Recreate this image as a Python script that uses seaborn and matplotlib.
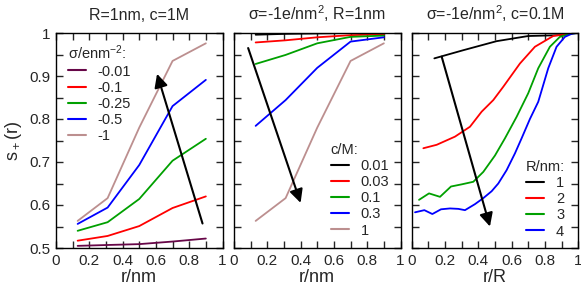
import numpy as np
import pandas as pd
import matplotlib
matplotlib.use("Agg")
import matplotlib.pyplot as plt
from matplotlib.ticker import MultipleLocator
import seaborn as sns

# ========== data ==========
# panel 1: R=1nm, c=1M, different surface charge densities
r_p1 = [0.13, 0.31, 0.5, 0.7, 0.9]
sigma_labels = ["-0.01", "-0.1", "-0.25", "-0.5", "-1"]
s_sig_001 = [0.505, 0.507, 0.509, 0.515, 0.522]
s_sig_01 = [0.517, 0.528, 0.551, 0.593, 0.620]
s_sig_025 = [0.540, 0.560, 0.614, 0.703, 0.754]
s_sig_05 = [0.556, 0.594, 0.693, 0.830, 0.891]
s_sig_1 = [0.563, 0.616, 0.780, 0.935, 0.976]

# panel 2: sigma=-1e/nm^2, R=1nm, different concentrations
r_p2 = [0.13, 0.31, 0.5, 0.7, 0.9]
conc_labels = ["0.01", "0.03", "0.1", "0.3", "1"]
s_c001 = [0.996, 0.998, 0.999, 1.000, 1.000]
s_c003 = [0.978, 0.983, 0.990, 0.995, 0.997]
s_c01 = [0.928, 0.949, 0.976, 0.991, 0.994]
s_c03 = [0.784, 0.844, 0.919, 0.980, 0.990]
s_c1 = [0.563, 0.616, 0.780, 0.935, 0.976]

# panel 3: sigma=-1e/nm^2, c=0.1M, different radii (x = r/R)
radius_labels = ["1", "2", "3", "4"]
r_R1 = [0.136, 0.31, 0.51, 0.70, 0.90, 0.96]
s_R1 = [0.941, 0.960, 0.981, 0.993, 0.995, 0.998]
r_R2 = [0.07, 0.15, 0.26, 0.35, 0.42, 0.49, 0.55, 0.65, 0.74, 0.85, 0.93, 0.98]
s_R2 = [0.732, 0.740, 0.759, 0.782, 0.817, 0.844, 0.875, 0.929, 0.968, 0.993, 0.998, 1.000]
r_R3 = [0.044, 0.104, 0.17, 0.236, 0.30, 0.37, 0.43, 0.50, 0.56, 0.63, 0.70, 0.76, 0.83, 0.89, 0.95, 0.99]
s_R3 = [0.612, 0.627, 0.619, 0.643, 0.648, 0.654, 0.677, 0.715, 0.755, 0.805, 0.860, 0.918, 0.968, 0.991, 0.998, 1.000]
r_R4 = [0.02, 0.076, 0.124, 0.176, 0.23, 0.28, 0.32, 0.38, 0.43, 0.48, 0.52, 0.57, 0.62, 0.66, 0.71, 0.76, 0.82, 0.87, 0.92, 0.96, 0.99]
s_R4 = [0.583, 0.588, 0.579, 0.590, 0.592, 0.591, 0.588, 0.602, 0.616, 0.632, 0.650, 0.681, 0.720, 0.755, 0.800, 0.840, 0.918, 0.968, 0.991, 0.998, 1.000]

# trend arrows (tail, tip) in data units
arrow_p1 = [(0.88, 0.557), (0.607, 0.905)]
arrow_p2 = [(0.085, 0.965), (0.40, 0.605)]
arrow_p3 = [(0.18, 0.945), (0.47, 0.55)]

titles = ["R=1nm, c=1M", "σ=-1e/nm$^2$, R=1nm", "σ=-1e/nm$^2$, c=0.1M"]
xlabels = ["r/nm", "r/nm", "r/R"]

colors5 = ["#670748", "#ff0000", "#00a000", "#0000ff", "#bc8f8f"]
colors4 = ["#000000", "#ff0000", "#00a000", "#0000ff"]
colors5b = ["#000000", "#ff0000", "#00a000", "#0000ff", "#bc8f8f"]

# ========== long tables ==========
df1 = pd.DataFrame({
    "r": r_p1 * 5,
    "s": s_sig_001 + s_sig_01 + s_sig_025 + s_sig_05 + s_sig_1,
    "grp": [l for l in sigma_labels for _ in r_p1],
})
df2 = pd.DataFrame({
    "r": r_p2 * 5,
    "s": s_c001 + s_c003 + s_c01 + s_c03 + s_c1,
    "grp": [l for l in conc_labels for _ in r_p2],
})
df3 = pd.DataFrame({
    "r": r_R1 + r_R2 + r_R3 + r_R4,
    "s": s_R1 + s_R2 + s_R3 + s_R4,
    "grp": (["1"] * len(r_R1) + ["2"] * len(r_R2)
            + ["3"] * len(r_R3) + ["4"] * len(r_R4)),
})

# ========== style ==========
sns.set_style("ticks")
plt.rcParams["font.family"] = ["Liberation Sans", "DejaVu Sans"]
plt.rcParams["mathtext.fontset"] = "custom"
plt.rcParams["mathtext.rm"] = "Liberation Sans"
plt.rcParams["mathtext.it"] = "Liberation Sans"

W, H = 581, 287
fig = plt.figure(figsize=(W / 100, H / 100), dpi=100)
lefts = [56, 234, 411.7]
aw = 166.5
top, bot = 33, 248
axes = [fig.add_axes([l / W, 1 - bot / H, aw / W, (bot - top) / H]) for l in lefts]

tables = [df1, df2, df3]
orders = [sigma_labels, conc_labels, radius_labels]
pals = [colors5, colors5b, colors4]
arrows = [arrow_p1, arrow_p2, arrow_p3]
leg_titles = ["σ/enm$^{-2}$:", "c/M:", "R/nm:"]
leg_locs = [(0.07, 0.95), (0.58, 0.49), (0.687, 0.41)]

for i, ax in enumerate(axes):
    sns.lineplot(data=tables[i], x="r", y="s", hue="grp", hue_order=orders[i],
                 palette=pals[i], sort=False, estimator=None, lw=1.3, ax=ax)
    ax.set_xlim(0, 1)
    ax.set_ylim(0.5, 1)
    ax.xaxis.set_major_locator(MultipleLocator(0.2))
    ax.xaxis.set_minor_locator(MultipleLocator(0.1))
    ax.yaxis.set_major_locator(MultipleLocator(0.1))
    ax.yaxis.set_minor_locator(MultipleLocator(0.05))
    ax.xaxis.set_major_formatter(plt.FuncFormatter(lambda v, p: f"{v:g}"))
    ax.yaxis.set_major_formatter(plt.FuncFormatter(lambda v, p: f"{v:g}"))
    ax.tick_params(which="both", direction="in", top=True, right=True,
                   length=5, width=1, labelsize=11, pad=4)
    for sp in ax.spines.values():
        sp.set_linewidth(1)
        sp.set_color("black")
    if i > 0:
        ax.tick_params(labelleft=False)
        ax.set_ylabel("")
    else:
        ax.set_ylabel("s$_+$(r)", fontsize=13, labelpad=4)
    ax.set_xlabel(xlabels[i], fontsize=13, labelpad=1)
    ax.set_title(titles[i], fontsize=11.5, pad=9)

    (tx, ty), (hx, hy) = arrows[i]
    ax.annotate("", xy=(hx, hy), xytext=(tx, ty),
                arrowprops=dict(arrowstyle="-|>", color="black", lw=1.5,
                                mutation_scale=20, shrinkA=0, shrinkB=0))

    leg = ax.legend(title=leg_titles[i], loc="upper left", bbox_to_anchor=leg_locs[i],
                    frameon=False, fontsize=10.5, title_fontsize=10.5,
                    handlelength=1.25, handletextpad=0.8, labelspacing=0.15,
                    borderpad=0, borderaxespad=0, alignment="left")
    for ln in leg.get_lines():
        ln.set_linewidth(1.5)

fig.savefig("out.png", dpi=100)
